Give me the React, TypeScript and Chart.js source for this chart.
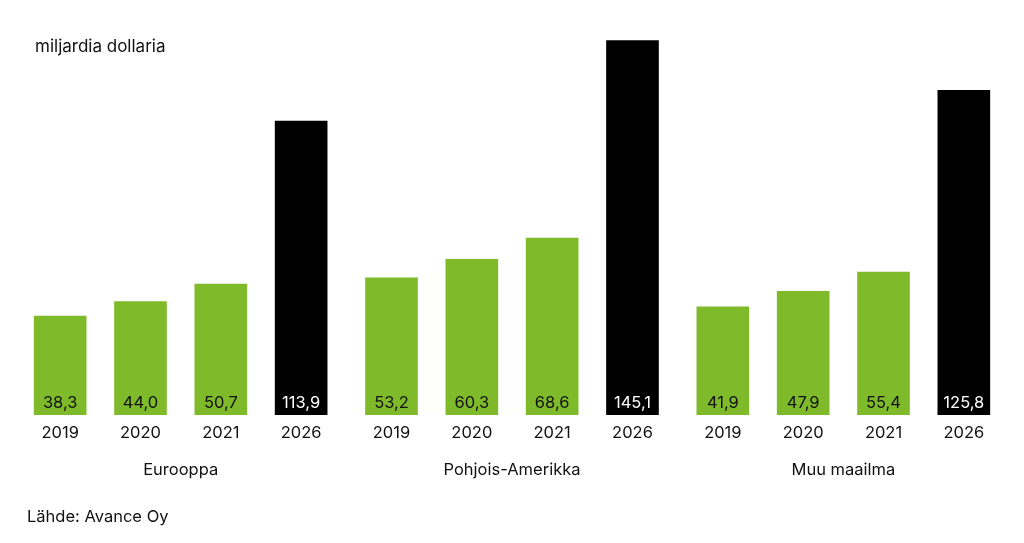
import React, { useEffect, useRef } from "react";
import { Chart, registerables } from "chart.js";

Chart.register(...registerables);

const regions = ["Eurooppa", "Pohjois-Amerikka", "Muu maailma"];
const years = ["2019", "2020", "2021", "2026"];
const europe = [38.3, 44.0, 50.7, 113.9];
const northAmerica = [53.2, 60.3, 68.6, 145.1];
const restOfWorld = [41.9, 47.9, 55.4, 125.8];
const unitLabel = "miljardia dollaria";
const sourceLabel = "Lähde: Avance Oy";

const GREEN = "#7fba2b";
const BLACK = "#000000";
const GROUP_STRIDE = 4.125;
const FONT = "Inter, 'Open Sans', sans-serif";

const seriesByRegion = [europe, northAmerica, restOfWorld];

export default function App() {
  const ref = useRef<HTMLCanvasElement | null>(null);

  useEffect(() => {
    const points: { x: number; y: number }[] = [];
    const colors: string[] = [];
    const yearIdx: number[] = [];
    seriesByRegion.forEach((vals, g) => {
      vals.forEach((v, i) => {
        points.push({ x: g * GROUP_STRIDE + i, y: v });
        colors.push(i === 3 ? BLACK : GREEN);
        yearIdx.push(i);
      });
    });
    const fmt = (v: number) => v.toFixed(1).replace(".", ",");

    const labelPlugin = {
      id: "labels",
      afterDatasetsDraw(chart: any) {
        const ctx = chart.ctx;
        const xs = chart.scales.x;
        const area = chart.chartArea;
        ctx.save();
        ctx.textAlign = "center";
        ctx.textBaseline = "middle";
        ctx.font = `16.5px ${FONT}`;
        points.forEach((p, k) => {
          const px = xs.getPixelForValue(p.x);
          ctx.fillStyle = yearIdx[k] === 3 ? "#ffffff" : "#111111";
          ctx.fillText(fmt(p.y), px, area.bottom - 12);
          ctx.fillStyle = "#111111";
          ctx.fillText(years[yearIdx[k]], px, area.bottom + 18);
        });
        regions.forEach((r, g) => {
          const px = xs.getPixelForValue(g * GROUP_STRIDE + 1.5);
          ctx.fillStyle = "#111111";
          ctx.fillText(r, px, area.bottom + 55);
        });
        ctx.restore();
      },
    };

    const chart = new Chart(ref.current!, {
      type: "bar",
      data: {
        datasets: [
          {
            data: points as any,
            backgroundColor: colors,
            barThickness: 52,
            borderWidth: 0,
          },
        ],
      },
      options: {
        animation: false,
        responsive: false,
        maintainAspectRatio: false,
        layout: { padding: { left: 20, right: 20, top: 28, bottom: 128 } },
        plugins: { legend: { display: false }, tooltip: { enabled: false } },
        scales: {
          x: {
            type: "linear",
            min: -0.5,
            max: 2 * GROUP_STRIDE + 3.5,
            offset: false,
            display: false,
          },
          y: { min: 0, max: 150, display: false },
        },
      },
      plugins: [labelPlugin],
    });
    return () => chart.destroy();
  }, []);

  return (
    <div
      style={{
        position: "absolute",
        left: 0,
        top: 0,
        width: 1024,
        height: 543,
        background: "#ffffff",
        fontFamily: FONT,
        color: "#111111",
      }}
    >
      <canvas ref={ref} width={1024} height={543} style={{ position: "absolute", left: 0, top: 0 }} />
      <div style={{ position: "absolute", left: 35, top: 36, fontSize: 17, lineHeight: "21px" }}>
        {unitLabel}
      </div>
      <div style={{ position: "absolute", left: 27, top: 506, fontSize: 16.5, lineHeight: "21px" }}>
        {sourceLabel}
      </div>
    </div>
  );
}
